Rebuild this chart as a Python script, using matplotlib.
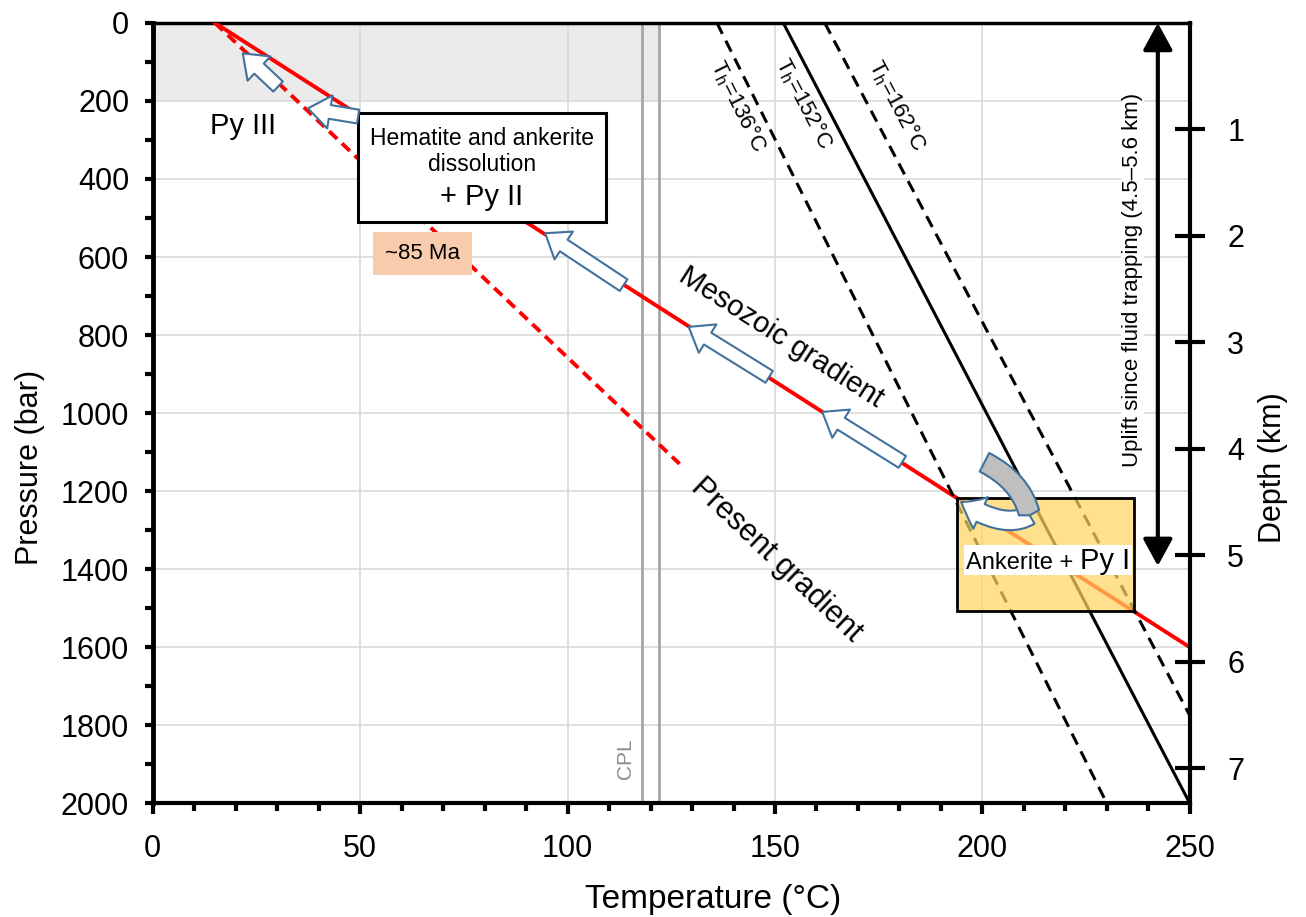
import matplotlib.pyplot as plt
import numpy as np
from matplotlib.patches import FancyArrowPatch, Rectangle
from matplotlib.path import Path
from matplotlib.ticker import MultipleLocator

plt.rcParams["font.family"] = ["Liberation Sans", "DejaVu Sans"]
plt.rcParams["mathtext.default"] = "regular"

# geothermal gradients, temperature (C) vs pressure (bar)
meso_T = [15, 250]
meso_P = [0, 1600]
present_T = [15, 127]
present_P = [0, 1130]

# isochores for the three homogenisation temperatures
iso_names = ["136", "152", "162"]
iso_T = [[136, 230], [152, 250], [162, 250]]
iso_P = [[0, 2000], [0, 2000], [0, 1775]]
iso_ls = [(0, (4, 2.5)), "-", (0, (4, 2.5))]

cpl_T = [118, 122]
shallow_P = [0, 200]

bar_per_km = 272.9
depth_ticks = [1, 2, 3, 4, 5, 6, 7]
uplift_km = [0, 5.1]

trap_T = [194, 236.5]

# hollow arrows (tail, head) in T / P
path_arrows = [
    ((30.2, 163), (21.7, 78)),
    ((49.5, 240), (37.4, 219)),
    ((113.5, 672), (94.6, 539)),
    ((148.6, 907), (129.2, 779)),
    ((180.7, 1125), (161.4, 997)),
]

# hook arrow at the trapping point: grey back part, then white front with head
hook_back = [(200.5, 1126), (209.5, 1175), (211.4, 1262)]
hook_front = [(211.4, 1262), (205.3, 1300), (194.9, 1228)]

fig = plt.figure(figsize=(13.06, 9.17), dpi=100)
ax = fig.add_axes([0.117, 0.124, 0.794, 0.851])
ax.set_xlim(0, 250)
ax.set_ylim(2000, 0)

ax.grid(True, color="#d9d9d9", lw=1.2)
ax.set_axisbelow(True)

ax.fill_betweenx(shallow_P, 0, cpl_T[1], color="#ebebeb", lw=0, zorder=0.2)
for t in cpl_T:
    ax.axvline(t, color="#a6a6a6", lw=2, zorder=2)
ax.text(114.0, 1885, "CPL", rotation=90, color="#8c8c8c", fontsize=15,
        ha="center", va="center")

# gradients
ax.plot(meso_T, meso_P, color="red", lw=2.8, zorder=3)
ax.plot(present_T, present_P, color="red", lw=2.8, ls=(0, (2.8, 1.7)), zorder=3)

for name, t, p, ls in zip(iso_names, iso_T, iso_P, iso_ls):
    ax.plot(t, p, color="black", lw=2.2, ls=ls, zorder=3)

iso_lab_xy = [(141.0, 212), (157.0, 207), (179.4, 212)]
iso_rot = [-63.5, -62.5, -62.3]
for name, (x, y), r in zip(iso_names, iso_lab_xy, iso_rot):
    ax.text(x, y, "T$_h$=" + name + "°C", rotation=r, rotation_mode="anchor",
            fontsize=16, ha="center", va="center", zorder=6)

ax.text(151.5, 806, "Mesozoic gradient", rotation=-32.7, rotation_mode="anchor",
        fontsize=21, ha="center", va="center", zorder=6)
ax.text(150.3, 1377, "Present gradient", rotation=-43.5, rotation_mode="anchor",
        fontsize=22, ha="center", va="center", zorder=6)

ax.text(21.7, 264, "Py III", fontsize=21, ha="center", va="center", zorder=6)

# dissolution box
ax.add_patch(Rectangle((49.5, 231), 59.7, 279, fc="white", ec="black", lw=2.2, zorder=5))
ax.text(79.3, 295, "Hematite and ankerite", fontsize=16.5, ha="center", va="center", zorder=6)
ax.text(79.3, 364, "dissolution", fontsize=16.5, ha="center", va="center", zorder=6)
ax.text(79.3, 446, "+ Py II", fontsize=21, ha="center", va="center", zorder=6)

# ~85 Ma label
ax.add_patch(Rectangle((53, 536), 24, 110, fc="#F8CBAD", ec="none", zorder=5))
ax.text(65, 592, "~85 Ma", fontsize=16, ha="center", va="center", zorder=6)

# fluid trapping box, corners on the Mesozoic gradient
trap_P = np.interp(trap_T, meso_T, meso_P)
ax.add_patch(Rectangle((trap_T[0], trap_P[0]), trap_T[1] - trap_T[0], trap_P[1] - trap_P[0],
                       fc=(1, 0.84, 0.38, 0.72), ec="black", lw=2, zorder=4))
ax.add_patch(Rectangle((195.5, 1338), 40.5, 77, fc="white", ec="none", zorder=4.5))
ax.text(223.6, 1400, "Ankerite + ", fontsize=17, ha="right", va="baseline", zorder=6)
ax.text(223.6, 1400, "Py I", fontsize=21, ha="left", va="baseline", zorder=6)

# hollow uplift arrows
for tail, head in path_arrows:
    ax.add_patch(FancyArrowPatch(tail, head, shrinkA=0, shrinkB=0,
                                 arrowstyle="simple,head_length=1.6,head_width=2.4,tail_width=1.0",
                                 mutation_scale=10, fc="white", ec="#41719C", lw=1.5, zorder=6))

curve3 = [Path.MOVETO, Path.CURVE3, Path.CURVE3]
ax.add_patch(FancyArrowPatch(path=Path(hook_front, curve3),
                             arrowstyle="simple,head_length=1.6,head_width=2.5,tail_width=1.4",
                             mutation_scale=10, fc="white", ec="#41719C", lw=1.5, zorder=7))
ax.add_patch(FancyArrowPatch(path=Path(hook_back, curve3),
                             arrowstyle="simple,head_length=0.2,head_width=1.5,tail_width=1.5",
                             mutation_scale=10, fc="#bfbfbf", ec="#41719C", lw=1.5, zorder=7.5))

ax.text(236.2, 659, "Uplift since fluid trapping (4.5–5.6 km)", rotation=90, fontsize=16,
        ha="center", va="center", zorder=6,
        bbox=dict(fc="white", ec="none", pad=1))

# axes styling
ax.xaxis.set_major_locator(MultipleLocator(50))
ax.xaxis.set_minor_locator(MultipleLocator(10))
ax.yaxis.set_major_locator(MultipleLocator(200))
ax.yaxis.set_minor_locator(MultipleLocator(100))
ax.tick_params(which="both", direction="out", width=3, labelsize=22, top=False, right=False)
ax.tick_params(axis="y", which="both", length=6, pad=11)
ax.tick_params(axis="x", which="major", length=8, pad=14)
ax.tick_params(axis="x", which="minor", length=6)
ax.spines["left"].set_linewidth(3.5)
ax.spines["bottom"].set_linewidth(3)
ax.spines["top"].set_linewidth(2.5)
ax.spines["right"].set_visible(False)

ax.set_xlabel("Temperature (°C)", fontsize=24)
ax.set_ylabel("Pressure (bar)", fontsize=22)
ax.xaxis.set_label_coords(0.54, -0.104)
ax.yaxis.set_label_coords(-0.104, 0.43)

ax2 = ax.twinx()
ax2.set_ylim(2000 / bar_per_km, 0)
ax2.set_yticks(depth_ticks)
ax2.tick_params(direction="inout", length=22, width=3, labelsize=22, pad=16)
for s in ["left", "top", "bottom"]:
    ax2.spines[s].set_visible(False)
ax2.spines["right"].set_linewidth(3)
ax2.set_ylabel("Depth (km)", fontsize=22)
ax2.yaxis.set_label_coords(1.066, 0.43)

ax2.annotate("", xy=(242.3, uplift_km[0]), xytext=(242.3, uplift_km[1]),
             arrowprops=dict(arrowstyle="<|-|>,head_length=0.55,head_width=0.3",
                             lw=3, color="black", mutation_scale=30, shrinkA=0, shrinkB=0))

fig.savefig("out.png", dpi=100)
